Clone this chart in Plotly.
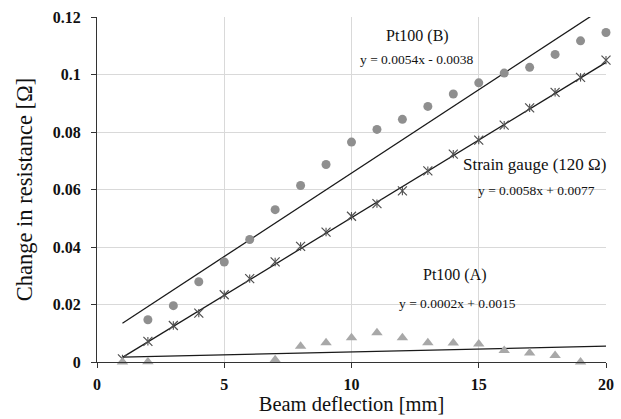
import plotly.graph_objects as go

deflection = list(range(1, 21))
pt100_b = [None, 0.0147, 0.0196, 0.0279, 0.0348, 0.0426, 0.0530, 0.0614, 0.0687, 0.0765,
           0.0809, 0.0844, 0.0889, 0.0932, 0.0971, 0.1005, 0.1025, 0.1070, 0.1117, 0.1146]
strain_gauge = [0.0011, 0.0072, 0.0127, 0.0170, 0.0234, 0.0290, 0.0348, 0.0402, 0.0452, 0.0507,
                0.0551, 0.0595, 0.0665, 0.0723, 0.0772, 0.0824, 0.0884, 0.0938, 0.0990, 0.1050]
pt100_a = [0.0, 0.0001, -0.0001, None, None, None, 0.0008, 0.0055, 0.0067, 0.0084,
           0.0102, 0.0084, 0.0067, 0.0066, 0.0063, 0.0040, 0.0031, 0.0023, 0.0, None]

# trendline coefficients (slope, intercept) for the drawn lines
trend_upper = (0.0058, 0.0077)
trend_lower = (0.0054, -0.0038)
trend_a = (0.0002, 0.0015)
trend_x = [1, 20]

labels = [
    ("Pt100 (B)", 12.58, 0.1134, 16),
    ("y = 0.0054x - 0.0038", 12.59, 0.1053, 13.5),
    ("Strain gauge (120 Ω)", 17.21, 0.0688, 17),
    ("y = 0.0058x + 0.0077", 17.28, 0.0595, 13.5),
    ("Pt100 (A)", 14.07, 0.0302, 16),
    ("y = 0.0002x + 0.0015", 14.16, 0.0205, 13.5),
]

FONT = "Liberation Serif"

fig = go.Figure()

for m, b in (trend_upper, trend_lower, trend_a):
    fig.add_trace(go.Scatter(x=trend_x, y=[m * x + b for x in trend_x], mode="lines",
                             line=dict(color="#1a1a1a", width=1.3), showlegend=False,
                             hoverinfo="skip"))

fig.add_trace(go.Scatter(x=deflection, y=pt100_b, mode="markers",
                         marker=dict(symbol="circle", size=9, color="#8f8f8f"),
                         showlegend=False, cliponaxis=False))
fig.add_trace(go.Scatter(x=deflection, y=strain_gauge, mode="markers",
                         marker=dict(symbol="x-thin-open", size=9, color="#505050",
                                     line=dict(color="#505050", width=1.2)),
                         showlegend=False, cliponaxis=False))
fig.add_trace(go.Scatter(x=deflection, y=strain_gauge, mode="markers",
                         marker=dict(symbol="line-ns-open", size=6, color="#505050",
                                     line=dict(color="#505050", width=1.1)),
                         showlegend=False, cliponaxis=False))
fig.add_trace(go.Scatter(x=deflection, y=pt100_a, mode="markers",
                         marker=dict(symbol="triangle-up", size=10, color="#a8a8a8"),
                         showlegend=False, cliponaxis=False))

for text, x, y, size in labels:
    fig.add_annotation(x=x, y=y, text=text, showarrow=False,
                       font=dict(family=FONT, size=size, color="#111111"))

fig.update_layout(
    width=621, height=419,
    margin=dict(l=97, r=15, t=17, b=57),
    paper_bgcolor="white", plot_bgcolor="white",
    font=dict(family=FONT, color="#111111"),
)
fig.update_xaxes(range=[0, 20], tickvals=[0, 5, 10, 15, 20], automargin=False,
                 tickfont=dict(family=FONT, size=16, color="#111111", weight="bold"),
                 ticklabelstandoff=3,
                 showgrid=True, gridcolor="#d9d9d9", gridwidth=1,
                 showline=True, linecolor="#333333", linewidth=1.3,
                 ticks="outside", ticklen=5, tickcolor="#333333",
                 zeroline=False,
                 title=dict(text="Beam deflection [mm]", font=dict(family=FONT, size=20.5),
                            standoff=4))
fig.update_yaxes(range=[0, 0.12], tickvals=[0, 0.02, 0.04, 0.06, 0.08, 0.1, 0.12],
                 ticktext=["0", "0.02", "0.04", "0.06", "0.08", "0.1", "0.12"],
                 automargin=False,
                 tickfont=dict(family=FONT, size=16, color="#111111", weight="bold"),
                 ticklabelstandoff=7,
                 showgrid=True, gridcolor="#d9d9d9", gridwidth=1,
                 showline=True, linecolor="#333333", linewidth=1.3,
                 ticks="outside", ticklen=5, tickcolor="#333333",
                 zeroline=False,
                 title=dict(text="Change in resistance [Ω]", font=dict(family=FONT, size=22.5),
                            standoff=13))

fig.write_html("out.html", config={"displayModeBar": False},
               post_script="document.body.style.margin='0';")
